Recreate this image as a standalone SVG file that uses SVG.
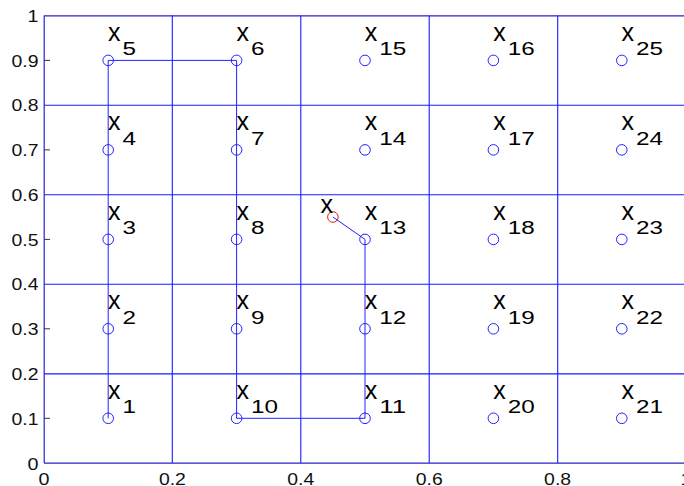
<svg xmlns="http://www.w3.org/2000/svg" width="684" height="486" viewBox="0 0 684 486">
<style>
.grid{stroke:#1a1aff;stroke-width:1.1;fill:none}
.axis{stroke:#2a22c8;stroke-width:1.2;fill:none}
.tick{stroke:#333;stroke-width:1;fill:none}
.tl{font-family:"Liberation Sans",Arial,sans-serif;font-size:16.5px;fill:#111}
.pt{stroke:#2222ff;stroke-width:1;fill:none}
.path{stroke:#2222ff;stroke-width:1;fill:none}
.lbl{font-family:"Liberation Sans",Arial,sans-serif;fill:#000}
</style>
<rect x="0" y="0" width="684" height="486" fill="#fff"/>
<g id="grid">
<line class="grid" x1="44" y1="373.9" x2="684" y2="373.9"/>
<line class="grid" x1="44" y1="284.2" x2="684" y2="284.2"/>
<line class="grid" x1="44" y1="194.8" x2="684" y2="194.8"/>
<line class="grid" x1="44" y1="105.2" x2="684" y2="105.2"/>
<line class="grid" x1="172.3" y1="15.5" x2="172.3" y2="463"/>
<line class="grid" x1="300.8" y1="15.5" x2="300.8" y2="463"/>
<line class="grid" x1="429.2" y1="15.5" x2="429.2" y2="463"/>
<line class="grid" x1="557.7" y1="15.5" x2="557.7" y2="463"/>
</g>
<g id="axes">
<line class="axis" x1="44" y1="15.8" x2="684" y2="15.8"/>
<line class="axis" x1="44.2" y1="15.5" x2="44.2" y2="463"/>
<line class="axis" x1="44" y1="463.2" x2="684" y2="463.2"/>
<line class="tick" x1="44" y1="418.3" x2="50" y2="418.3"/>
<line class="tick" x1="44" y1="328.8" x2="50" y2="328.8"/>
<line class="tick" x1="44" y1="239.4" x2="50" y2="239.4"/>
<line class="tick" x1="44" y1="149.9" x2="50" y2="149.9"/>
<line class="tick" x1="44" y1="60.4" x2="50" y2="60.4"/>
</g>
<g id="ticklabels" class="tl">
<g text-anchor="end" lengthAdjust="spacingAndGlyphs">
<text x="38.5" y="469.5" textLength="11" lengthAdjust="spacingAndGlyphs">0</text>
<text x="38.5" y="424.5" textLength="27" lengthAdjust="spacingAndGlyphs">0.1</text>
<text x="38.5" y="380" textLength="27" lengthAdjust="spacingAndGlyphs">0.2</text>
<text x="38.5" y="335" textLength="27" lengthAdjust="spacingAndGlyphs">0.3</text>
<text x="38.5" y="290" textLength="27" lengthAdjust="spacingAndGlyphs">0.4</text>
<text x="38.5" y="245.5" textLength="27" lengthAdjust="spacingAndGlyphs">0.5</text>
<text x="38.5" y="200.5" textLength="27" lengthAdjust="spacingAndGlyphs">0.6</text>
<text x="38.5" y="156" textLength="27" lengthAdjust="spacingAndGlyphs">0.7</text>
<text x="38.5" y="111" textLength="27" lengthAdjust="spacingAndGlyphs">0.8</text>
<text x="38.5" y="66.5" textLength="27" lengthAdjust="spacingAndGlyphs">0.9</text>
<text x="38.5" y="21.5" textLength="11" lengthAdjust="spacingAndGlyphs">1</text>
</g>
<g text-anchor="middle">
<text x="44" y="485" textLength="11" lengthAdjust="spacingAndGlyphs">0</text>
<text x="172.4" y="485" textLength="27" lengthAdjust="spacingAndGlyphs">0.2</text>
<text x="300.8" y="485" textLength="27" lengthAdjust="spacingAndGlyphs">0.4</text>
<text x="429.2" y="485" textLength="27" lengthAdjust="spacingAndGlyphs">0.6</text>
<text x="557.6" y="485" textLength="27" lengthAdjust="spacingAndGlyphs">0.8</text>
<text x="686" y="485" textLength="11" lengthAdjust="spacingAndGlyphs">1</text>
</g>
</g>
<g id="connectors">
<polyline class="path" points="108.2,418.3 108.2,60.4 236.6,60.4 236.6,418.3 365,418.3 365,239.4 332.9,217"/>
</g>
<g id="x1"><circle class="pt" cx="108.2" cy="418.3" r="5.3"/><text class="lbl" font-size="25" x="108" y="398.8">x</text><text class="lbl" font-size="18" x="122.5" y="413.3" textLength="13.5" lengthAdjust="spacingAndGlyphs">1</text></g>
<g id="x2"><circle class="pt" cx="108.2" cy="328.8" r="5.3"/><text class="lbl" font-size="25" x="108" y="309.3">x</text><text class="lbl" font-size="18" x="122.5" y="323.8" textLength="13.5" lengthAdjust="spacingAndGlyphs">2</text></g>
<g id="x3"><circle class="pt" cx="108.2" cy="239.4" r="5.3"/><text class="lbl" font-size="25" x="108" y="219.9">x</text><text class="lbl" font-size="18" x="122.5" y="234.4" textLength="13.5" lengthAdjust="spacingAndGlyphs">3</text></g>
<g id="x4"><circle class="pt" cx="108.2" cy="149.9" r="5.3"/><text class="lbl" font-size="25" x="108" y="130.4">x</text><text class="lbl" font-size="18" x="122.5" y="144.9" textLength="13.5" lengthAdjust="spacingAndGlyphs">4</text></g>
<g id="x5"><circle class="pt" cx="108.2" cy="60.4" r="5.3"/><text class="lbl" font-size="25" x="108" y="40.9">x</text><text class="lbl" font-size="18" x="122.5" y="55.4" textLength="13.5" lengthAdjust="spacingAndGlyphs">5</text></g>
<g id="x6"><circle class="pt" cx="236.6" cy="60.4" r="5.3"/><text class="lbl" font-size="25" x="236.4" y="40.9">x</text><text class="lbl" font-size="18" x="250.9" y="55.4" textLength="13.5" lengthAdjust="spacingAndGlyphs">6</text></g>
<g id="x7"><circle class="pt" cx="236.6" cy="149.9" r="5.3"/><text class="lbl" font-size="25" x="236.4" y="130.4">x</text><text class="lbl" font-size="18" x="250.9" y="144.9" textLength="13.5" lengthAdjust="spacingAndGlyphs">7</text></g>
<g id="x8"><circle class="pt" cx="236.6" cy="239.4" r="5.3"/><text class="lbl" font-size="25" x="236.4" y="219.9">x</text><text class="lbl" font-size="18" x="250.9" y="234.4" textLength="13.5" lengthAdjust="spacingAndGlyphs">8</text></g>
<g id="x9"><circle class="pt" cx="236.6" cy="328.8" r="5.3"/><text class="lbl" font-size="25" x="236.4" y="309.3">x</text><text class="lbl" font-size="18" x="250.9" y="323.8" textLength="13.5" lengthAdjust="spacingAndGlyphs">9</text></g>
<g id="x10"><circle class="pt" cx="236.6" cy="418.3" r="5.3"/><text class="lbl" font-size="25" x="236.4" y="398.8">x</text><text class="lbl" font-size="18" x="250.9" y="413.3" textLength="27" lengthAdjust="spacingAndGlyphs">10</text></g>
<g id="x11"><circle class="pt" cx="365" cy="418.3" r="5.3"/><text class="lbl" font-size="25" x="364.8" y="398.8">x</text><text class="lbl" font-size="18" x="379.3" y="413.3" textLength="27" lengthAdjust="spacingAndGlyphs">11</text></g>
<g id="x12"><circle class="pt" cx="365" cy="328.8" r="5.3"/><text class="lbl" font-size="25" x="364.8" y="309.3">x</text><text class="lbl" font-size="18" x="379.3" y="323.8" textLength="27" lengthAdjust="spacingAndGlyphs">12</text></g>
<g id="x13"><circle class="pt" cx="365" cy="239.4" r="5.3"/><text class="lbl" font-size="25" x="364.8" y="219.9">x</text><text class="lbl" font-size="18" x="379.3" y="234.4" textLength="27" lengthAdjust="spacingAndGlyphs">13</text></g>
<g id="x14"><circle class="pt" cx="365" cy="149.9" r="5.3"/><text class="lbl" font-size="25" x="364.8" y="130.4">x</text><text class="lbl" font-size="18" x="379.3" y="144.9" textLength="27" lengthAdjust="spacingAndGlyphs">14</text></g>
<g id="x15"><circle class="pt" cx="365" cy="60.4" r="5.3"/><text class="lbl" font-size="25" x="364.8" y="40.9">x</text><text class="lbl" font-size="18" x="379.3" y="55.4" textLength="27" lengthAdjust="spacingAndGlyphs">15</text></g>
<g id="x16"><circle class="pt" cx="493.4" cy="60.4" r="5.3"/><text class="lbl" font-size="25" x="493.2" y="40.9">x</text><text class="lbl" font-size="18" x="507.7" y="55.4" textLength="27" lengthAdjust="spacingAndGlyphs">16</text></g>
<g id="x17"><circle class="pt" cx="493.4" cy="149.9" r="5.3"/><text class="lbl" font-size="25" x="493.2" y="130.4">x</text><text class="lbl" font-size="18" x="507.7" y="144.9" textLength="27" lengthAdjust="spacingAndGlyphs">17</text></g>
<g id="x18"><circle class="pt" cx="493.4" cy="239.4" r="5.3"/><text class="lbl" font-size="25" x="493.2" y="219.9">x</text><text class="lbl" font-size="18" x="507.7" y="234.4" textLength="27" lengthAdjust="spacingAndGlyphs">18</text></g>
<g id="x19"><circle class="pt" cx="493.4" cy="328.8" r="5.3"/><text class="lbl" font-size="25" x="493.2" y="309.3">x</text><text class="lbl" font-size="18" x="507.7" y="323.8" textLength="27" lengthAdjust="spacingAndGlyphs">19</text></g>
<g id="x20"><circle class="pt" cx="493.4" cy="418.3" r="5.3"/><text class="lbl" font-size="25" x="493.2" y="398.8">x</text><text class="lbl" font-size="18" x="507.7" y="413.3" textLength="27" lengthAdjust="spacingAndGlyphs">20</text></g>
<g id="x21"><circle class="pt" cx="621.8" cy="418.3" r="5.3"/><text class="lbl" font-size="25" x="621.6" y="398.8">x</text><text class="lbl" font-size="18" x="636.1" y="413.3" textLength="27" lengthAdjust="spacingAndGlyphs">21</text></g>
<g id="x22"><circle class="pt" cx="621.8" cy="328.8" r="5.3"/><text class="lbl" font-size="25" x="621.6" y="309.3">x</text><text class="lbl" font-size="18" x="636.1" y="323.8" textLength="27" lengthAdjust="spacingAndGlyphs">22</text></g>
<g id="x23"><circle class="pt" cx="621.8" cy="239.4" r="5.3"/><text class="lbl" font-size="25" x="621.6" y="219.9">x</text><text class="lbl" font-size="18" x="636.1" y="234.4" textLength="27" lengthAdjust="spacingAndGlyphs">23</text></g>
<g id="x24"><circle class="pt" cx="621.8" cy="149.9" r="5.3"/><text class="lbl" font-size="25" x="621.6" y="130.4">x</text><text class="lbl" font-size="18" x="636.1" y="144.9" textLength="27" lengthAdjust="spacingAndGlyphs">24</text></g>
<g id="x25"><circle class="pt" cx="621.8" cy="60.4" r="5.3"/><text class="lbl" font-size="25" x="621.6" y="40.9">x</text><text class="lbl" font-size="18" x="636.1" y="55.4" textLength="27" lengthAdjust="spacingAndGlyphs">25</text></g>
<g id="xq"><circle cx="332.9" cy="217" r="5.3" fill="none" stroke="#e02020" stroke-width="1"/><text class="lbl" font-size="25" x="320.5" y="213">x</text></g>
</svg>
